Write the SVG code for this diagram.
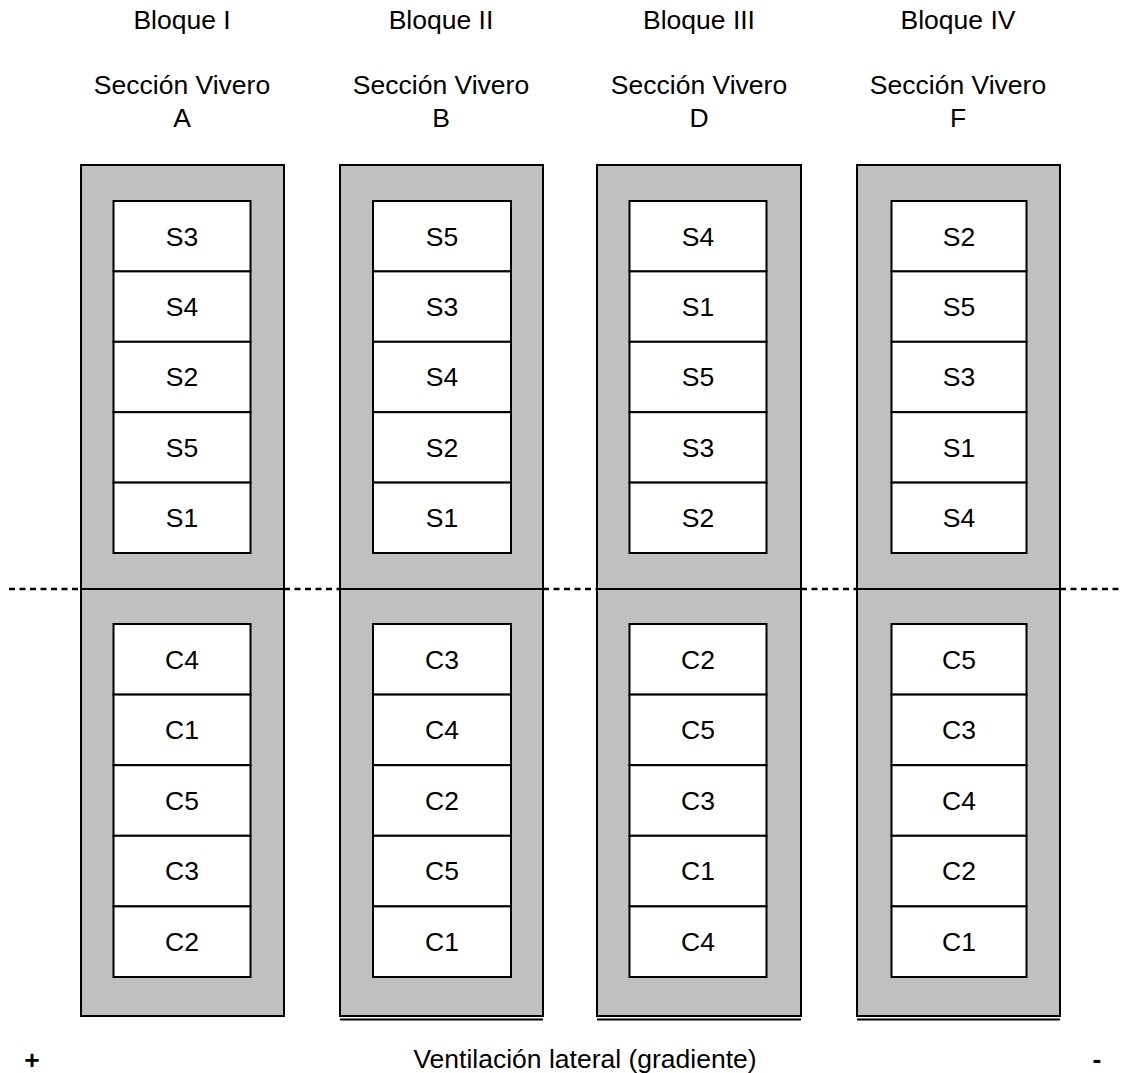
<svg xmlns="http://www.w3.org/2000/svg" width="1124" height="1073" viewBox="0 0 1124 1073">
<style>
text{font-family:"Liberation Sans",Arial,sans-serif;font-size:26.5px;fill:#000;text-anchor:middle}
.blk{fill:#c0c0c0;stroke:#000;stroke-width:2}
.cell{fill:#fff;stroke:#000;stroke-width:2}
.dash{stroke:#000;stroke-width:2.6;stroke-dasharray:6 4.5;fill:none}
.dbl{stroke:#000;stroke-width:2.2;fill:none}
.sign{font-weight:bold}
</style>
<rect width="1124" height="1073" fill="#fff"/>
<g id="headers">
<text x="182" y="29">Bloque I</text>
<text x="441" y="29">Bloque II</text>
<text x="699" y="29">Bloque III</text>
<text x="958" y="29">Bloque IV</text>
<text x="182" y="94">Sección Vivero</text>
<text x="182" y="127">A</text>
<text x="441" y="94">Sección Vivero</text>
<text x="441" y="127">B</text>
<text x="699" y="94">Sección Vivero</text>
<text x="699" y="127">D</text>
<text x="958" y="94">Sección Vivero</text>
<text x="958" y="127">F</text>
</g>
<g id="connectors">
<line class="dash" x1="9" y1="589" x2="81" y2="589"/>
<line class="dash" x1="284" y1="589" x2="340" y2="589"/>
<line class="dash" x1="543" y1="589" x2="597" y2="589"/>
<line class="dash" x1="801" y1="589" x2="857" y2="589"/>
<line class="dash" x1="1060" y1="589" x2="1122" y2="589"/>
<line class="dbl" x1="340" y1="1019.5" x2="543" y2="1019.5"/>
<line class="dbl" x1="597" y1="1019.5" x2="801" y2="1019.5"/>
<line class="dbl" x1="857" y1="1019.5" x2="1060" y2="1019.5"/>
</g>
<g id="bloque-I">
<rect class="blk" x="81" y="165" width="203" height="424"/>
<rect class="blk" x="81" y="589" width="203" height="427"/>
<g id="I-S3"><rect class="cell" x="113.5" y="201" width="137" height="70.4"/><text x="182" y="245.5">S3</text></g>
<g id="I-S4"><rect class="cell" x="113.5" y="271.4" width="137" height="70.4"/><text x="182" y="315.9">S4</text></g>
<g id="I-S2"><rect class="cell" x="113.5" y="341.8" width="137" height="70.4"/><text x="182" y="386.3">S2</text></g>
<g id="I-S5"><rect class="cell" x="113.5" y="412.2" width="137" height="70.4"/><text x="182" y="456.7">S5</text></g>
<g id="I-S1"><rect class="cell" x="113.5" y="482.6" width="137" height="70.4"/><text x="182" y="527.1">S1</text></g>
<g id="I-C4"><rect class="cell" x="113.5" y="624" width="137" height="70.6"/><text x="182" y="668.6">C4</text></g>
<g id="I-C1"><rect class="cell" x="113.5" y="694.6" width="137" height="70.6"/><text x="182" y="739.2">C1</text></g>
<g id="I-C5"><rect class="cell" x="113.5" y="765.2" width="137" height="70.6"/><text x="182" y="809.8">C5</text></g>
<g id="I-C3"><rect class="cell" x="113.5" y="835.8" width="137" height="70.6"/><text x="182" y="880.4">C3</text></g>
<g id="I-C2"><rect class="cell" x="113.5" y="906.4" width="137" height="70.6"/><text x="182" y="951">C2</text></g>
</g>
<g id="bloque-II">
<rect class="blk" x="340" y="165" width="203" height="424"/>
<rect class="blk" x="340" y="589" width="203" height="427"/>
<g id="II-S5"><rect class="cell" x="373" y="201" width="138" height="70.4"/><text x="442" y="245.5">S5</text></g>
<g id="II-S3"><rect class="cell" x="373" y="271.4" width="138" height="70.4"/><text x="442" y="315.9">S3</text></g>
<g id="II-S4"><rect class="cell" x="373" y="341.8" width="138" height="70.4"/><text x="442" y="386.3">S4</text></g>
<g id="II-S2"><rect class="cell" x="373" y="412.2" width="138" height="70.4"/><text x="442" y="456.7">S2</text></g>
<g id="II-S1"><rect class="cell" x="373" y="482.6" width="138" height="70.4"/><text x="442" y="527.1">S1</text></g>
<g id="II-C3"><rect class="cell" x="373" y="624" width="138" height="70.6"/><text x="442" y="668.6">C3</text></g>
<g id="II-C4"><rect class="cell" x="373" y="694.6" width="138" height="70.6"/><text x="442" y="739.2">C4</text></g>
<g id="II-C2"><rect class="cell" x="373" y="765.2" width="138" height="70.6"/><text x="442" y="809.8">C2</text></g>
<g id="II-C5"><rect class="cell" x="373" y="835.8" width="138" height="70.6"/><text x="442" y="880.4">C5</text></g>
<g id="II-C1"><rect class="cell" x="373" y="906.4" width="138" height="70.6"/><text x="442" y="951">C1</text></g>
</g>
<g id="bloque-III">
<rect class="blk" x="597" y="165" width="204" height="424"/>
<rect class="blk" x="597" y="589" width="204" height="427"/>
<g id="III-S4"><rect class="cell" x="629.5" y="201" width="137" height="70.4"/><text x="698" y="245.5">S4</text></g>
<g id="III-S1"><rect class="cell" x="629.5" y="271.4" width="137" height="70.4"/><text x="698" y="315.9">S1</text></g>
<g id="III-S5"><rect class="cell" x="629.5" y="341.8" width="137" height="70.4"/><text x="698" y="386.3">S5</text></g>
<g id="III-S3"><rect class="cell" x="629.5" y="412.2" width="137" height="70.4"/><text x="698" y="456.7">S3</text></g>
<g id="III-S2"><rect class="cell" x="629.5" y="482.6" width="137" height="70.4"/><text x="698" y="527.1">S2</text></g>
<g id="III-C2"><rect class="cell" x="629.5" y="624" width="137" height="70.6"/><text x="698" y="668.6">C2</text></g>
<g id="III-C5"><rect class="cell" x="629.5" y="694.6" width="137" height="70.6"/><text x="698" y="739.2">C5</text></g>
<g id="III-C3"><rect class="cell" x="629.5" y="765.2" width="137" height="70.6"/><text x="698" y="809.8">C3</text></g>
<g id="III-C1"><rect class="cell" x="629.5" y="835.8" width="137" height="70.6"/><text x="698" y="880.4">C1</text></g>
<g id="III-C4"><rect class="cell" x="629.5" y="906.4" width="137" height="70.6"/><text x="698" y="951">C4</text></g>
</g>
<g id="bloque-IV">
<rect class="blk" x="857" y="165" width="203" height="424"/>
<rect class="blk" x="857" y="589" width="203" height="427"/>
<g id="IV-S2"><rect class="cell" x="891.5" y="201" width="135" height="70.4"/><text x="959" y="245.5">S2</text></g>
<g id="IV-S5"><rect class="cell" x="891.5" y="271.4" width="135" height="70.4"/><text x="959" y="315.9">S5</text></g>
<g id="IV-S3"><rect class="cell" x="891.5" y="341.8" width="135" height="70.4"/><text x="959" y="386.3">S3</text></g>
<g id="IV-S1"><rect class="cell" x="891.5" y="412.2" width="135" height="70.4"/><text x="959" y="456.7">S1</text></g>
<g id="IV-S4"><rect class="cell" x="891.5" y="482.6" width="135" height="70.4"/><text x="959" y="527.1">S4</text></g>
<g id="IV-C5"><rect class="cell" x="891.5" y="624" width="135" height="70.6"/><text x="959" y="668.6">C5</text></g>
<g id="IV-C3"><rect class="cell" x="891.5" y="694.6" width="135" height="70.6"/><text x="959" y="739.2">C3</text></g>
<g id="IV-C4"><rect class="cell" x="891.5" y="765.2" width="135" height="70.6"/><text x="959" y="809.8">C4</text></g>
<g id="IV-C2"><rect class="cell" x="891.5" y="835.8" width="135" height="70.6"/><text x="959" y="880.4">C2</text></g>
<g id="IV-C1"><rect class="cell" x="891.5" y="906.4" width="135" height="70.6"/><text x="959" y="951">C1</text></g>
</g>
<g id="footer">
<text class="sign" x="32" y="1069">+</text>
<text x="585" y="1068">Ventilación lateral (gradiente)</text>
<text class="sign" x="1097" y="1068">-</text>
</g>
</svg>
